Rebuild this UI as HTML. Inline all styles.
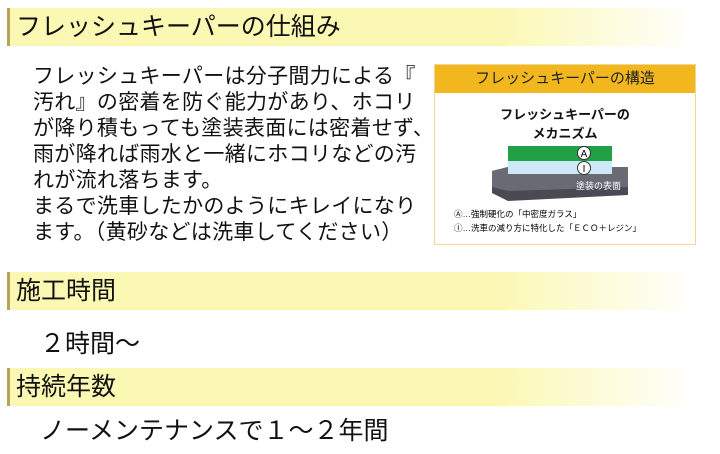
<!DOCTYPE html>
<html><head><meta charset="utf-8"><style>
body{margin:0;width:720px;height:454px;background:#fff;position:relative;overflow:hidden;font-family:"Liberation Sans","Noto Sans CJK JP",sans-serif;color:#111}
.bar{position:absolute;left:7px;width:703px;height:38px;border-left:3px solid #b9a25c;background:linear-gradient(to right,#fbf8b4 0%,#fbf8b4 70%,#fff 98%);font-size:25px;line-height:38px;padding-left:6px;box-sizing:border-box}
.t{position:absolute;font-size:21px;line-height:26px;left:33px;top:64px;white-space:nowrap;letter-spacing:0.3px}
.big{position:absolute;font-size:25px;white-space:nowrap}
.box{position:absolute;left:434px;top:64px;width:262px;height:181px;border:1px solid #f0d890;box-sizing:border-box;background:#fff}
.bh{height:28px;background:#f2b71f;font-size:15px;line-height:28px;text-align:center;color:#222}
</style></head><body>
<div class="bar" style="top:8px">フレッシュキーパーの仕組み</div>
<div class="t">フレッシュキーパーは分子間力による『<br>汚れ』の密着を防ぐ能力があり、ホコリ<br>が降り積もっても塗装表面には密着せず、<br>雨が降れば雨水と一緒にホコリなどの汚<br>れが流れ落ちます。<br>まるで洗車したかのようにキレイになり<br>ます。（黄砂などは洗車してください）</div>
<div class="box"><div class="bh">フレッシュキーパーの構造</div>
<div style="position:absolute;top:40px;width:100%;text-align:center;font-size:13px;line-height:19px;font-weight:bold">フレッシュキーパーの<br>メカニズム</div>
<svg style="position:absolute;left:-1px;top:80px" width="262" height="100">
<polygon points="58,26 74,22 194,22 194,50 74,56 58,48" fill="#4a4a55"/>
<polygon points="58,26 74,22 194,22 194,42 74,46 58,42" fill="#6a6a75"/>
<rect x="74" y="1" width="104" height="15" fill="#22a046"/>
<rect x="74" y="16" width="104" height="13" fill="#cfe8f6"/>
<circle cx="150" cy="8" r="6.5" fill="#fff" stroke="#333"/><text x="150" y="12" font-size="10" text-anchor="middle">A</text>
<circle cx="150" cy="23" r="6.5" fill="#fff" stroke="#333"/><text x="150" y="27" font-size="10" text-anchor="middle">I</text>
<text x="142" y="44" font-size="9" fill="#fff">塗装の表面</text>
<text x="20" y="72" font-size="8.5">Ⓐ…強制硬化の「中密度ガラス」</text>
<text x="20" y="86" font-size="8.5">Ⓘ…洗車の減り方に特化した「ＥＣＯ＋レジン」</text>
</svg></div>
<div class="bar" style="top:272px">施工時間</div>
<div class="big" style="left:40px;top:324px">２時間～</div>
<div class="bar" style="top:368px">持続年数</div>
<div class="big" style="left:40px;top:411px">ノーメンテナンスで１～２年間</div>
</body></html>
